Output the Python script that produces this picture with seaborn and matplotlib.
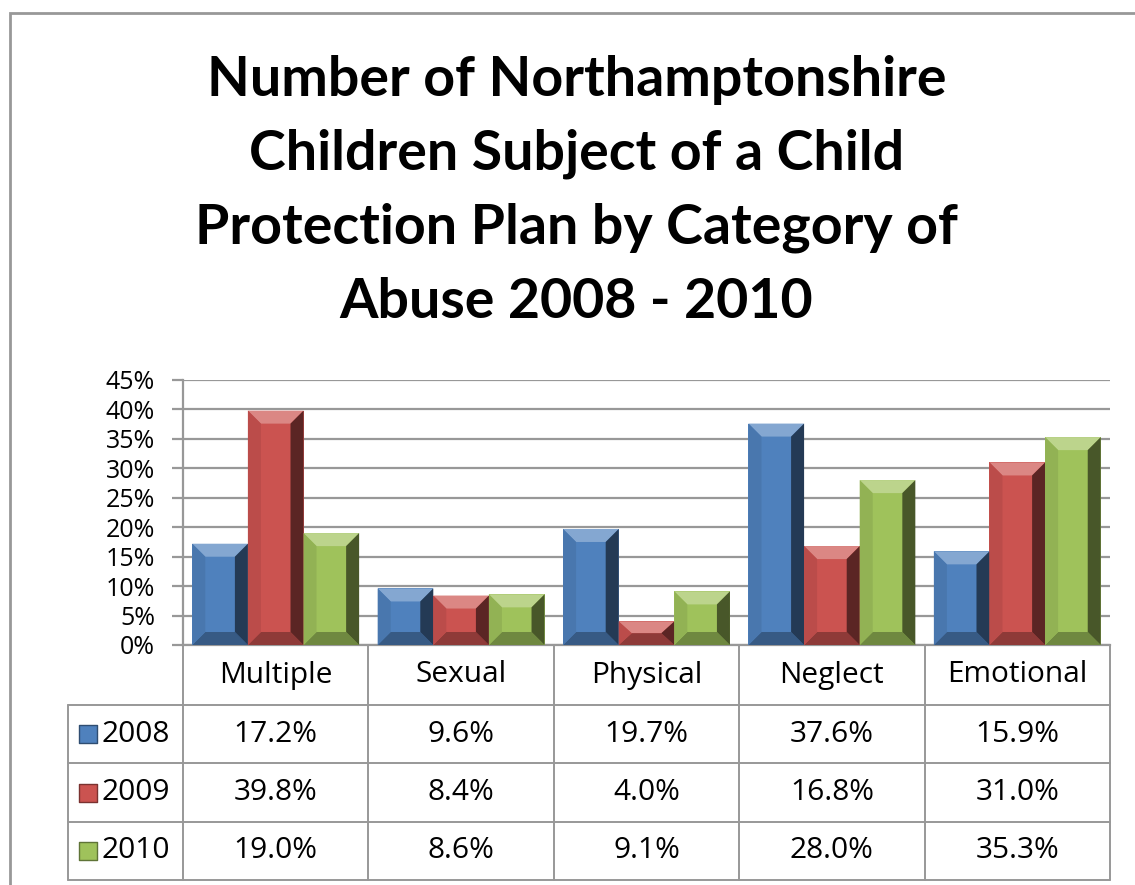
import matplotlib
matplotlib.use("Agg")
import matplotlib.pyplot as plt
import matplotlib.transforms as mtransforms
from matplotlib.patches import Polygon, Rectangle
import numpy as np
import pandas as pd
import seaborn as sns

categories = ["Multiple", "Sexual", "Physical", "Neglect", "Emotional"]
years = ["2008", "2009", "2010"]
pct_2008 = [17.2, 9.6, 19.7, 37.6, 15.9]
pct_2009 = [39.8, 8.4, 4.0, 16.8, 31.0]
pct_2010 = [19.0, 8.6, 9.1, 28.0, 35.3]
title_lines = ["Number of Northamptonshire",
               "Children Subject of a Child",
               "Protection Plan by Category of",
               "Abuse 2008 - 2010"]

colors = ["#4F81BD", "#CB5350", "#9FC25B"]

df = pd.DataFrame({
    "category": categories * 3,
    "year": np.repeat(years, len(categories)),
    "value": pct_2008 + pct_2009 + pct_2010,
})

sns.set_theme(style="white")
plt.rcParams["font.family"] = ["Open Sans", "DejaVu Sans"]
tick_fs = 18
table_fs = 21.5

W, H = 1135, 885
fig = plt.figure(figsize=(W / 100, H / 100), dpi=100)
ax_l, ax_r, ax_t, ax_b = 183, 1110, 380, 645
ax = fig.add_axes([ax_l / W, 1 - ax_b / H, (ax_r - ax_l) / W, (ax_b - ax_t) / H])

sns.barplot(data=df, x="category", y="value", hue="year", order=categories,
            hue_order=years, palette=colors, width=0.9, saturation=1,
            edgecolor="none", legend=False, ax=ax, zorder=3)

ax.set_xlim(-0.5, len(categories) - 0.5)
ax.set_ylim(0, 45)
ax.set_yticks(range(0, 50, 5))
ax.set_yticklabels([f"{t}%" for t in range(0, 50, 5)])
ax.set_xticks([])
ax.set_xlabel("")
ax.set_ylabel("")
grey = "#989898"
ax.yaxis.grid(True, color=grey, lw=1.6)
ax.set_axisbelow(True)
for s in ["top", "right"]:
    ax.spines[s].set_visible(False)
for s in ["left", "bottom"]:
    ax.spines[s].set_color(grey)
    ax.spines[s].set_linewidth(1.6)
ax.tick_params(axis="y", length=8, width=1.6, color=grey, direction="out",
               labelsize=tick_fs, pad=12, left=True)
for lbl in ax.get_yticklabels():
    lbl.set_color("black")

# bevel look on every bar
px_x = (ax_r - ax_l) / len(categories)
px_y = (ax_b - ax_t) / 45
for p in ax.patches:
    x0, w, h = p.get_x(), p.get_width(), p.get_height()
    if h <= 0:
        continue
    c = np.array(p.get_facecolor()[:3])
    light = c + (1 - c) * 0.3
    dark = c * 0.45
    mid_dark = c * 0.7
    bx = 13 / px_x
    by = min(13 / px_y, h / 2)
    polys = [
        ([(x0, h), (x0 + w, h), (x0 + w - bx, h - by), (x0 + bx, h - by)], light),
        ([(x0, 0), (x0 + w, 0), (x0 + w - bx, by), (x0 + bx, by)], mid_dark),
        ([(x0 + w, 0), (x0 + w, h), (x0 + w - bx, h - by), (x0 + w - bx, by)], dark),
        ([(x0, 0), (x0, h), (x0 + bx, h - by), (x0 + bx, by)], c * 0.92),
    ]
    for pts, col in polys:
        ax.add_patch(Polygon(pts, closed=True, facecolor=col, edgecolor="none", zorder=4))

# data table under the chart
trans = mtransforms.blended_transform_factory(ax.transData, ax.transAxes)
ah = ax_b - ax_t
row_px = [645, 705, 763, 822, 880]
row_y = [(ax_b - r) / ah for r in row_px]
left_x = (68 - ax_l) / px_x - 0.5
line_kw = dict(color=grey, lw=1.4, transform=trans, clip_on=False)

for i in range(len(categories) + 1):
    ax.plot([i - 0.5, i - 0.5], [row_y[0], row_y[-1]], **line_kw)
for y in row_y[1:]:
    ax.plot([left_x, len(categories) - 0.5], [y, y], **line_kw)
ax.plot([left_x, left_x], [row_y[1], row_y[-1]], **line_kw)

for i, cat in enumerate(categories):
    ax.text(i, (row_y[0] + row_y[1]) / 2, cat, transform=trans, ha="center",
            va="center", fontsize=table_fs, color="black")

series = [pct_2008, pct_2009, pct_2010]
for r, (yr, vals, col) in enumerate(zip(years, series, colors)):
    yc = (row_y[r + 1] + row_y[r + 2]) / 2
    ax.scatter([(88 - ax_l) / px_x - 0.5], [yc], marker="s", s=150, color=col,
               edgecolor=np.array(matplotlib.colors.to_rgb(col)) * 0.6, linewidth=1,
               transform=trans, clip_on=False, zorder=5)
    ax.text((102 - ax_l) / px_x - 0.5, yc, yr, transform=trans, ha="left",
            va="center", fontsize=table_fs, color="black")
    for i, v in enumerate(vals):
        ax.text(i, yc, f"{v:.1f}%", transform=trans, ha="center", va="center",
                fontsize=table_fs, color="black")

# title
for k, line in enumerate(title_lines):
    fig.text(0.508, 1 - (80 + 74 * k) / H, line, ha="center", va="center",
             fontsize=40, fontweight="bold", color="black", family=["Lato", "DejaVu Sans"])

# outer chart border
fig.add_artist(Rectangle((10 / W, -0.05), 1.2, 1 - 13 / H + 0.05, fill=False,
                         edgecolor=grey, lw=2, transform=fig.transFigure))

fig.savefig("out.png", dpi=100)
